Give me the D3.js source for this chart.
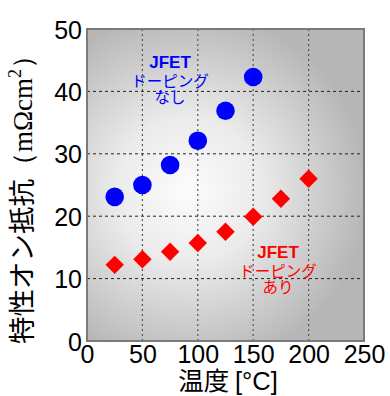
<!DOCTYPE html>
<html><head><meta charset="utf-8">
<script src="https://cdn.jsdelivr.net/npm/d3@7"></script>
<style>html,body{margin:0;padding:0;background:#fff;}</style>
</head><body>
<script>
const tempsUndoped = [25, 50, 75, 100, 125, 150];
const ronUndoped = [23.1, 25.0, 28.2, 32.1, 36.9, 42.3];
const tempsDoped = [25, 50, 75, 100, 125, 150, 175, 200];
const ronDoped = [12.2, 13.1, 14.3, 15.7, 17.5, 19.9, 22.8, 26.0];
const xTicks = [0, 50, 100, 150, 200, 250];
const yTicks = [0, 10, 20, 30, 40, 50];
const labelUndoped = ["JFET", "ドーピング", "なし"];
const labelDoped = ["JFET", "ドーピング", "あり"];

const W = 390, H = 396;
const m = {left: 87, right: 364, top: 29, bottom: 341};
const x = d3.scaleLinear().domain([0, 250]).range([m.left, m.right]);
const y = d3.scaleLinear().domain([0, 50]).range([m.bottom, m.top]);

const svg = d3.select("body").append("svg").attr("width", W).attr("height", H);
const defs = svg.append("defs");
const g = defs.append("radialGradient").attr("id", "bg")
  .attr("gradientUnits", "userSpaceOnUse")
  .attr("cx", 188).attr("cy", 190).attr("r", 180);
g.append("stop").attr("offset", "0%").attr("stop-color", "#fcfcfc");
g.append("stop").attr("offset", "40%").attr("stop-color", "#ebebeb");
g.append("stop").attr("offset", "100%").attr("stop-color", "#b6b6b6");

svg.append("rect").attr("x", x(0)).attr("y", y(50))
  .attr("width", x(250) - x(0)).attr("height", y(0) - y(50))
  .attr("fill", "url(#bg)");

// gridlines
svg.append("g").selectAll("line").data(xTicks.filter(d => d > 0 && d < 250)).join("line")
  .attr("x1", d => x(d)).attr("x2", d => x(d)).attr("y1", y(50)).attr("y2", y(0))
  .attr("stroke", "#555").attr("stroke-width", 1.2).attr("stroke-dasharray", "2,3");
svg.append("g").selectAll("line").data(yTicks.filter(d => d > 0 && d < 50)).join("line")
  .attr("x1", x(0)).attr("x2", x(250)).attr("y1", d => y(d)).attr("y2", d => y(d))
  .attr("stroke", "#222").attr("stroke-width", 1).attr("stroke-dasharray", "3,3");

// border
svg.append("rect").attr("x", x(0)).attr("y", y(50))
  .attr("width", x(250) - x(0)).attr("height", y(0) - y(50))
  .attr("fill", "none").attr("stroke", "#7a7a7a").attr("stroke-width", 2);

// axes tick labels
const xAxis = d3.axisBottom(x).tickValues(xTicks).tickSize(0).tickPadding(4);
const gx = svg.append("g").attr("transform", `translate(0,${m.bottom})`).call(xAxis);
gx.select(".domain").remove();
gx.selectAll("text").attr("font-family", "Liberation Sans, Arial, sans-serif")
  .attr("font-size", 25).attr("fill", "#000").attr("dy", "0.71em");

const yAxis = d3.axisLeft(y).tickValues(yTicks).tickSize(0).tickPadding(5);
const gy = svg.append("g").attr("transform", `translate(${m.left},0)`).call(yAxis);
gy.select(".domain").remove();
gy.selectAll("text").attr("font-family", "Liberation Sans, Arial, sans-serif")
  .attr("font-size", 25).attr("fill", "#000").attr("dy", "0.36em");

// data
svg.append("g").selectAll("circle").data(tempsUndoped).join("circle")
  .attr("cx", d => x(d)).attr("cy", (d, i) => y(ronUndoped[i])).attr("r", 9.3)
  .attr("fill", "#0000ff");
const dia = d3.symbol().type(d3.symbolSquare).size(170);
svg.append("g").selectAll("path").data(tempsDoped).join("path")
  .attr("d", dia)
  .attr("transform", (d, i) => `translate(${x(d)},${y(ronDoped[i])}) rotate(45)`)
  .attr("fill", "#ff0000");

// annotations
function annot(lines, cx, y0, color) {
  const grp = svg.append("g").attr("fill", color).attr("text-anchor", "middle");
  lines.forEach((s, i) => {
    grp.append("text").attr("x", cx).attr("y", y0 + [0, 18.5, 35][i]).text(s)
      .attr("font-family", i === 0 ? "Liberation Sans, Arial, sans-serif" : "Noto Sans CJK JP")
      .attr("font-weight", i === 0 ? "bold" : "normal")
      .attr("font-size", i === 0 ? 17 : 15.5);
  });
}
annot(labelUndoped, 170, 68, "#0000ff");
annot(labelDoped, 278, 258, "#ff0000");

// axis titles
svg.append("text").attr("x", 228).attr("y", 390).attr("text-anchor", "middle")
  .attr("font-size", 25.5).attr("fill", "#000")
  .call(t => {
    t.append("tspan").attr("font-family", "Noto Sans CJK JP").text("温度 ");
    t.append("tspan").attr("font-family", "Liberation Sans, Arial, sans-serif").text("[°C]");
  });

svg.append("text").attr("transform", "translate(32,193) rotate(-90)")
  .attr("text-anchor", "middle").attr("fill", "#000")
  .call(t => {
    t.append("tspan").attr("font-family", "Noto Sans CJK JP").attr("font-size", 27.5).text("特性オン抵抗");
    t.append("tspan").attr("font-family", "Liberation Serif, serif").attr("font-size", 27).text("（mΩcm");
    t.append("tspan").attr("font-family", "Liberation Serif, serif").attr("font-size", 18).attr("dy", -11).text("2");
    t.append("tspan").attr("font-family", "Liberation Serif, serif").attr("font-size", 27).attr("dy", 11).text("）");
  });
</script>
</body></html>
